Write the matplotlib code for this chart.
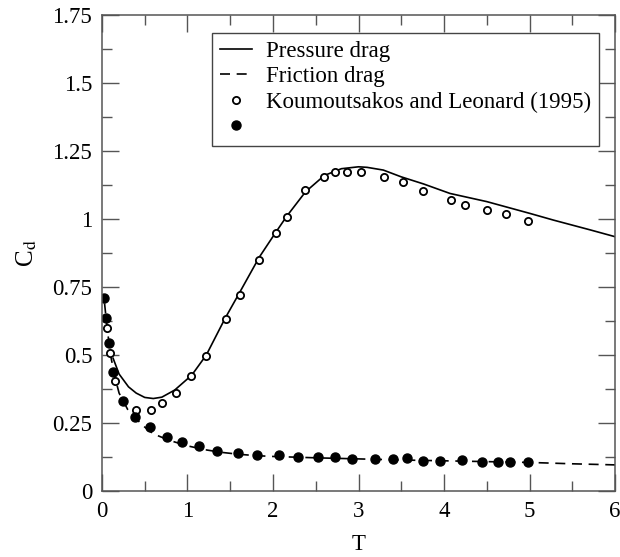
import matplotlib
matplotlib.use("Agg")
import matplotlib.pyplot as plt
from matplotlib.lines import Line2D
from matplotlib.ticker import MultipleLocator, FuncFormatter

plt.rcParams["font.family"] = ["Liberation Serif", "DejaVu Serif"]
plt.rcParams["mathtext.fontset"] = "stix"

# Pressure drag (solid line)
t_press = [0.13, 0.2, 0.31, 0.4, 0.5, 0.6, 0.7, 0.85, 1.05, 1.22, 1.44, 1.61, 1.84,
           2.03, 2.16, 2.38, 2.6, 2.8, 3.0, 3.1, 3.29, 3.5, 3.76, 4.07, 4.5, 5.0,
           5.28, 5.71, 6.0]
cd_press = [0.488, 0.43, 0.383, 0.36, 0.344, 0.34, 0.345, 0.371, 0.426, 0.5, 0.635,
            0.73, 0.86, 0.95, 1.01, 1.10, 1.16, 1.185, 1.192, 1.19, 1.18, 1.155,
            1.129, 1.094, 1.064, 1.021, 0.996, 0.96, 0.935]

# Friction drag (dashed line)
t_fric = [0.03, 0.06, 0.1, 0.15, 0.2, 0.3, 0.4, 0.5, 0.6, 0.8, 1.0, 1.2, 1.4, 1.6,
          1.8, 2.0, 2.5, 3.0, 3.5, 4.0, 4.5, 5.0, 5.5, 6.0]
cd_fric = [0.69, 0.6, 0.5, 0.42, 0.36, 0.3, 0.265, 0.235, 0.21, 0.185, 0.166, 0.152,
           0.142, 0.135, 0.13, 0.127, 0.122, 0.118, 0.114, 0.111, 0.108, 0.105,
           0.1, 0.096]

# Koumoutsakos and Leonard (1995), pressure (open) and friction (filled)
t_kl_p = [0.055, 0.094, 0.152, 0.40, 0.57, 0.70, 0.86, 1.045, 1.22, 1.455, 1.61,
          1.84, 2.035, 2.16, 2.38, 2.60, 2.72, 2.87, 3.03, 3.30, 3.52, 3.755, 4.08,
          4.245, 4.50, 4.73, 4.98]
cd_kl_p = [0.598, 0.508, 0.404, 0.298, 0.298, 0.325, 0.359, 0.424, 0.496, 0.631,
           0.72, 0.849, 0.947, 1.008, 1.107, 1.153, 1.172, 1.172, 1.172, 1.156,
           1.137, 1.104, 1.069, 1.053, 1.034, 1.018, 0.991]
t_kl_f = [0.027, 0.043, 0.082, 0.125, 0.25, 0.386, 0.56, 0.76, 0.94, 1.14, 1.345,
          1.587, 1.81, 2.075, 2.29, 2.53, 2.72, 2.92, 3.19, 3.40, 3.57, 3.755, 3.95,
          4.215, 4.44, 4.63, 4.775, 4.985]
cd_kl_f = [0.708, 0.635, 0.545, 0.439, 0.332, 0.271, 0.236, 0.200, 0.180, 0.165,
           0.148, 0.141, 0.134, 0.134, 0.125, 0.126, 0.126, 0.119, 0.119, 0.119,
           0.121, 0.112, 0.112, 0.113, 0.105, 0.105, 0.105, 0.107]

labels = ["Pressure drag", "Friction drag", "Koumoutsakos and Leonard (1995)", ""]

fig = plt.figure(figsize=(6.2, 5.57), dpi=100)
ax = fig.add_axes([0.1645, 0.1185, 0.8275, 0.8545])

ax.plot(t_press, cd_press, color="black", lw=1.2)
ax.plot(t_fric, cd_fric, color="black", lw=1.2, dashes=(6, 4))
ax.plot(t_kl_p, cd_kl_p, "o", mfc="white", mec="black", mew=1.3, ms=5.2, ls="none")
ax.plot(t_kl_f, cd_kl_f, "o", color="black", ms=6.5, ls="none")

ax.set_xlim(0, 6)
ax.set_ylim(0, 1.75)
ax.xaxis.set_major_locator(MultipleLocator(1))
ax.xaxis.set_minor_locator(MultipleLocator(0.5))
ax.yaxis.set_major_locator(MultipleLocator(0.25))
ax.yaxis.set_minor_locator(MultipleLocator(0.125))
ax.yaxis.set_major_formatter(FuncFormatter(lambda v, p: f"{v:g}"))
ax.tick_params(which="both", direction="in", top=True, right=True, labelsize=16.5,
               color="#555555", width=1)
ax.tick_params(which="major", length=12, pad=7)
ax.tick_params(which="minor", length=7)
for s in ax.spines.values():
    s.set_color("#555555")
    s.set_linewidth(1.1)

ax.set_xlabel("T", fontsize=16.5, labelpad=9)
ax.set_ylabel(r"C$_{\rm d}$", fontsize=18, labelpad=10)

handles = [
    Line2D([], [], color="black", lw=1.2),
    Line2D([], [], color="black", lw=1.2, dashes=(6, 4)),
    Line2D([], [], marker="o", mfc="white", mec="black", mew=1.3, ms=5.2, ls="none"),
    Line2D([], [], marker="o", color="black", ms=6.5, ls="none"),
]
leg = ax.legend(handles, labels, loc="upper right", bbox_to_anchor=(0.969, 0.962),
                fontsize=16.5, frameon=True, fancybox=False, edgecolor="#444444",
                framealpha=1, handlelength=1.4, handletextpad=0.6, labelspacing=0.18,
                borderpad=0.35, borderaxespad=0)
leg.get_frame().set_linewidth(1.0)

fig.savefig("out.png", dpi=100)
